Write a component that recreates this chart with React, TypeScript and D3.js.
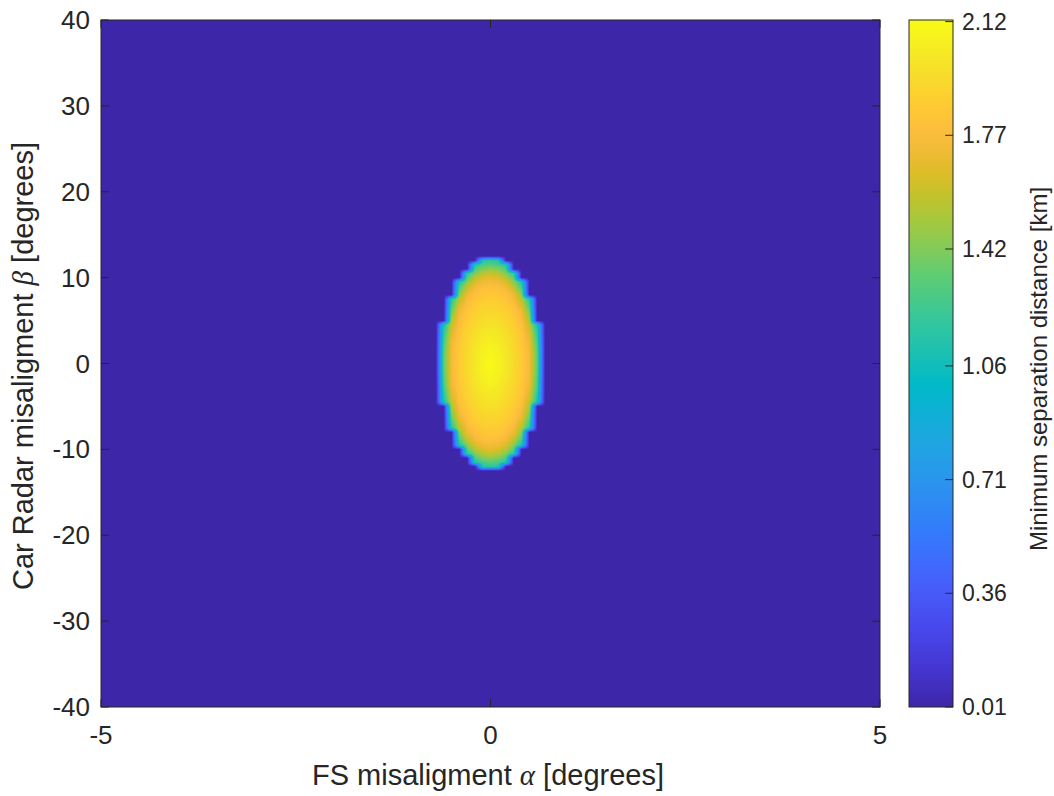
import React, { useMemo } from 'react';
import * as d3 from 'd3';

// ---------- data ----------
const xDomain: [number, number] = [-5, 5];
const yDomain: [number, number] = [-40, 40];
const xTicks = [-5, 0, 5];
const yTicks = [-40, -30, -20, -10, 0, 10, 20, 30, 40];
const cTicks = [0.01, 0.36, 0.71, 1.06, 1.42, 1.77, 2.12];
const cTickLabels = ['0.01', '0.36', '0.71', '1.06', '1.42', '1.77', '2.12'];
const cDomain: [number, number] = [0.01, 2.125];

// sampling grid of the surface (degrees)
const alphaStep = 0.1;
const betaStep = 0.5;
// extent of the non-zero region (elliptical, degrees)
const blobAlphaHalf = 0.645;
const blobBetaHalf = 12.3;
const profileRadius = [0, 0.15, 0.3, 0.45, 0.6, 0.7, 0.8, 0.88, 0.94, 1.0];
const profileValue = [2.12, 2.08, 2.02, 1.95, 1.88, 1.82, 1.72, 1.52, 1.3, 1.1];
const floorValue = 0.01;

// parula colormap anchors
const parulaIdx = [0, 16, 32, 48, 64, 80, 96, 112, 120, 128, 144, 160, 176, 192, 200, 208, 216, 224, 232, 240, 248, 255];
const parulaRGB = [
  [0.2422, 0.1504, 0.6603], [0.2704, 0.2138, 0.8346], [0.2813, 0.2985, 0.9397], [0.271, 0.386, 0.9898],
  [0.2006, 0.4803, 0.9906], [0.1716, 0.5655, 0.9393], [0.1288, 0.6408, 0.891], [0.0433, 0.7039, 0.8242],
  [0.0018, 0.7275, 0.7752], [0.077, 0.7468, 0.7224], [0.2061, 0.7808, 0.6065], [0.3671, 0.8021, 0.4563],
  [0.5886, 0.7913, 0.2833], [0.7945, 0.7554, 0.157], [0.8804, 0.7372, 0.165], [0.9523, 0.7284, 0.2237],
  [0.9971, 0.7513, 0.2309], [0.9938, 0.7974, 0.1974], [0.9748, 0.8467, 0.1726], [0.9601, 0.8963, 0.1507],
  [0.9642, 0.9437, 0.1216], [0.9769, 0.9839, 0.0805],
];

// ---------- layout ----------
const W = 1054, H = 796;
const plotL = 101, plotR = 880, plotT = 20, plotB = 707;
const cbL = 909, cbR = 953;
const axisColor = '#262626';
const sans = '"Liberation Sans", Arial, Helvetica, sans-serif';
const serif = '"Liberation Serif", "DejaVu Serif", serif';

const xScale = d3.scaleLinear().domain(xDomain).range([plotL, plotR]);
const yScale = d3.scaleLinear().domain(yDomain).range([plotB, plotT]);
const cScale = d3.scaleLinear().domain(cDomain).range([plotB, plotT]);

const parulaScale = d3
  .scaleLinear<string>()
  .domain(parulaIdx.map((i) => i / 255))
  .range(parulaRGB.map((c) => d3.rgb(c[0] * 255, c[1] * 255, c[2] * 255).toString()))
  .interpolate(d3.interpolateRgb);
const LUT = d3.range(256).map((k) => d3.rgb(parulaScale(k / 255)));

const profile = d3.scaleLinear().domain(profileRadius).range(profileValue).clamp(true);

function buildGrid() {
  const xs = d3.range(xDomain[0], xDomain[1] + alphaStep / 2, alphaStep);
  const ys = d3.range(yDomain[0], yDomain[1] + betaStep / 2, betaStep);
  const grid = ys.map((b) =>
    xs.map((a) => {
      const r = Math.hypot(a / blobAlphaHalf, b / blobBetaHalf);
      return r <= 1 ? profile(r) : floorValue;
    })
  );
  return { xs, ys, grid };
}

function colorIndex(v: number) {
  const t = (v - cDomain[0]) / (cDomain[1] - cDomain[0]);
  return Math.max(0, Math.min(255, Math.round(t * 255)));
}

function makeHeatmap(): string {
  const { xs, ys, grid } = buildGrid();
  const pw = plotR - plotL, ph = plotB - plotT;
  const canvas = document.createElement('canvas');
  canvas.width = pw;
  canvas.height = ph;
  const ctx = canvas.getContext('2d')!;
  const img = ctx.createImageData(pw, ph);
  const nx = xs.length, ny = ys.length;
  for (let py = 0; py < ph; py++) {
    const yv = yScale.invert(plotT + py + 0.5);
    let fj = (yv - yDomain[0]) / betaStep;
    fj = Math.max(0, Math.min(ny - 1.0001, fj));
    const j0 = Math.floor(fj), tj = fj - j0;
    for (let px = 0; px < pw; px++) {
      const xv = xScale.invert(plotL + px + 0.5);
      let fi = (xv - xDomain[0]) / alphaStep;
      fi = Math.max(0, Math.min(nx - 1.0001, fi));
      const i0 = Math.floor(fi), ti = fi - i0;
      const v =
        grid[j0][i0] * (1 - ti) * (1 - tj) +
        grid[j0][i0 + 1] * ti * (1 - tj) +
        grid[j0 + 1][i0] * (1 - ti) * tj +
        grid[j0 + 1][i0 + 1] * ti * tj;
      const c = LUT[colorIndex(v)];
      const k = (py * pw + px) * 4;
      img.data[k] = c.r;
      img.data[k + 1] = c.g;
      img.data[k + 2] = c.b;
      img.data[k + 3] = 255;
    }
  }
  ctx.putImageData(img, 0, 0);
  return canvas.toDataURL();
}

export default function App() {
  const href = useMemo(() => makeHeatmap(), []);
  const tickLen = 7.8;
  const gradStops = d3.range(0, 256, 5).concat([255]);
  return (
    <svg
      width={W}
      height={H}
      style={{ position: 'absolute', left: 0, top: 0, background: '#fff' }}
      fontFamily={sans}
    >
      <defs>
        <linearGradient id="cbgrad" x1="0" y1="1" x2="0" y2="0">
          {gradStops.map((k) => (
            <stop key={k} offset={k / 255} stopColor={LUT[k].toString()} />
          ))}
        </linearGradient>
      </defs>

      {/* heatmap */}
      <image href={href} x={plotL} y={plotT} width={plotR - plotL} height={plotB - plotT} preserveAspectRatio="none" />

      {/* axes ticks */}
      {xTicks.map((t) => (
        <g key={'xt' + t}>
          <line x1={xScale(t)} x2={xScale(t)} y1={plotB} y2={plotB - tickLen} stroke={axisColor} strokeWidth={1} />
          <line x1={xScale(t)} x2={xScale(t)} y1={plotT} y2={plotT + tickLen} stroke={axisColor} strokeWidth={1} />
          <text x={xScale(t)} y={744} fontSize={26} textAnchor="middle" fill={axisColor}>
            {t}
          </text>
        </g>
      ))}
      {yTicks.map((t) => (
        <g key={'yt' + t}>
          <line x1={plotL} x2={plotL + tickLen} y1={yScale(t)} y2={yScale(t)} stroke={axisColor} strokeWidth={1} />
          <line x1={plotR} x2={plotR - tickLen} y1={yScale(t)} y2={yScale(t)} stroke={axisColor} strokeWidth={1} />
          <text x={90} y={yScale(t)} dy="0.35em" fontSize={26} textAnchor="end" fill={axisColor}>
            {t}
          </text>
        </g>
      ))}
      <rect x={plotL} y={plotT} width={plotR - plotL} height={plotB - plotT} fill="none" stroke={axisColor} strokeWidth={1} />

      {/* axis labels */}
      <text x={488} y={785} fontSize={29} textAnchor="middle" fill={axisColor}>
        FS misaligment <tspan fontFamily={serif} fontStyle="italic">α</tspan> [degrees]
      </text>
      <text transform="translate(33,366) rotate(-90)" fontSize={29} textAnchor="middle" fill={axisColor}>
        Car Radar misaligment <tspan fontFamily={serif} fontStyle="italic">β</tspan> [degrees]
      </text>

      {/* colorbar */}
      <rect x={cbL} y={plotT} width={cbR - cbL} height={plotB - plotT} fill="url(#cbgrad)" stroke={axisColor} strokeWidth={1} />
      {cTicks.map((t, i) => (
        <g key={'ct' + t}>
          <line x1={cbR} x2={cbR - tickLen} y1={cScale(t)} y2={cScale(t)} stroke={axisColor} strokeWidth={1} />
          <text x={962} y={cScale(t)} dy="0.35em" fontSize={23} fill={axisColor}>
            {cTickLabels[i]}
          </text>
        </g>
      ))}
      <text transform="translate(1047,369) rotate(-90)" fontSize={24} textAnchor="middle" fill={axisColor}>
        Minimum separation distance [km]
      </text>
    </svg>
  );
}
